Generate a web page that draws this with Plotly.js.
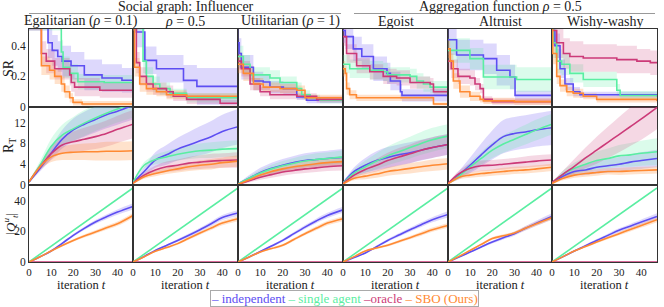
<!DOCTYPE html>
<html>
<head>
<meta charset="utf-8">
<script src="https://cdn.plot.ly/plotly-3.0.1.min.js"></script>
<style>html,body{margin:0;padding:0;background:#fff;}#chart{width:664px;height:307px;}</style>
</head>
<body>
<div id="chart"></div>
<script>
// ---------------- DATA ----------------
const SERIES = ['independent', 'single agent', 'oracle', 'SBO (Ours)'];
const COLUMNS = ['Egalitarian (<i>ρ</i> = 0.1)', '<i>ρ</i> = 0.5', 'Utilitarian (<i>ρ</i> = 1)', 'Egoist', 'Altruist', 'Wishy-washy'];
const GROUPS = ['Social graph: Influencer', 'Aggregation function <i>ρ</i> = 0.5'];
const X_TICKS = [0, 10, 20, 30, 40];
const SR_TICKS = [0, 0.2, 0.4];
const RT_TICKS = [0, 4, 8, 12];
const Q_TICKS = [0, 20, 40];

// Row 1: simple regret (step curves) — per series: iteration breakpoints, mean, spread
const SR_EGAL_T = [[0,8.6,10.5,13,15,19,25,33,42,47],[0,14.6,15.4,18.4,22.1,34,47],[0,5.6,7.8,11.6,18.4,19.1,20.6,32,47],[0,5.6,9.3,11.6,14.6,16.1,18.4,19.9,24,47]];
const SR_EGAL_M = [[0.6,0.42,0.37,0.33,0.30,0.27,0.21,0.19,0.175,0.175],[0.6,0.36,0.26,0.22,0.165,0.16,0.155],[0.6,0.35,0.30,0.25,0.21,0.16,0.13,0.11,0.11],[0.6,0.27,0.24,0.20,0.15,0.10,0.06,0.03,0.02,0.015]];
const SR_EGAL_S = [[0.1,0.1,0.1,0.1,0.1,0.09,0.1,0.09,0.08,0.08],[0.1,0.08,0.07,0.06,0.05,0.05,0.05],[0.1,0.08,0.08,0.07,0.07,0.06,0.06,0.05,0.05],[0.08,0.06,0.06,0.05,0.05,0.04,0.03,0.02,0.02,0.015]];

const SR_RHO_T = [[0,1.5,5.3,10.5,22.6,28.6,47],[0,4.5,6,9,12,16.6,24,47],[0,1.5,3,6,9,15,18,24,39,47],[0,0.7,3,6,10.5,15,24,47]];
const SR_RHO_M = [[0.6,0.49,0.305,0.25,0.174,0.135,0.135],[0.6,0.3,0.2,0.15,0.12,0.09,0.06,0.05],[0.6,0.29,0.2,0.15,0.12,0.10,0.07,0.05,0.025,0.02],[0.6,0.26,0.15,0.12,0.10,0.08,0.07,0.065]];
const SR_RHO_S = [[0.1,0.1,0.09,0.09,0.1,0.12,0.12],[0.1,0.08,0.06,0.05,0.04,0.03,0.03,0.03],[0.1,0.07,0.06,0.05,0.04,0.04,0.03,0.03,0.02,0.02],[0.08,0.06,0.05,0.04,0.03,0.03,0.02,0.02]];

const SR_UTIL_T = [[0,0.5,1.5,6.9,11.3,14.3,20.3,26.3,30.7,47],[0,2.4,5.4,14.3,18.8,26.3,28.5,32.3,36.7,47],[0,1.5,5.4,9.9,14.3,26.3,35.2,47],[0,2.4,6.9,11.3,18.8,26.3,30,47]];
const SR_UTIL_M = [[0.42,0.35,0.26,0.17,0.163,0.13,0.12,0.065,0.044,0.04],[0.33,0.28,0.21,0.19,0.16,0.12,0.08,0.06,0.045,0.04],[0.30,0.25,0.15,0.10,0.08,0.07,0.05,0.045],[0.28,0.22,0.15,0.13,0.12,0.11,0.06,0.05]];
const SR_UTIL_S = [[0.1,0.1,0.08,0.06,0.05,0.04,0.04,0.02,0.02,0.02],[0.07,0.06,0.05,0.05,0.04,0.04,0.03,0.02,0.02,0.02],[0.06,0.05,0.04,0.03,0.03,0.02,0.02,0.02],[0.06,0.05,0.04,0.03,0.03,0.03,0.02,0.02]];

const SR_EGO_T = [[0,1,4.6,8.4,13.6,19.7,21.2,25.7,26.4,47],[0,3,12,18,20,30,33,36,39,47],[0,1.6,6.1,12,18,24,30,39,40.5,47],[0,1,1.6,3,6,39,40.5,47]];
const SR_EGO_M = [[0.5,0.46,0.38,0.33,0.25,0.22,0.17,0.10,0.076,0.07],[0.28,0.25,0.24,0.23,0.21,0.2,0.17,0.15,0.13,0.12],[0.46,0.35,0.27,0.23,0.20,0.19,0.16,0.15,0.10,0.08],[0.25,0.22,0.12,0.08,0.06,0.06,0.02,0.02]];
const SR_EGO_S = [[0.08,0.08,0.08,0.08,0.08,0.07,0.06,0.05,0.04,0.04],[0.06,0.06,0.06,0.06,0.05,0.05,0.05,0.05,0.04,0.04],[0.06,0.06,0.05,0.05,0.05,0.05,0.04,0.04,0.03,0.03],[0.05,0.05,0.04,0.03,0.02,0.02,0.01,0.01]];

const SR_ALT_T = [[0,3.9,16,22,28,30.3,47],[0,9.9,16,31,47],[0,1.5,4.5,9.9,12.2,14.5,16,20,47],[0,1,2.4,5.4,9.9,14.5,16,30,47]];
const SR_ALT_M = [[0.44,0.34,0.316,0.24,0.196,0.076,0.07],[0.37,0.316,0.196,0.18,0.18],[0.30,0.25,0.20,0.19,0.15,0.12,0.05,0.035,0.03],[0.38,0.30,0.17,0.10,0.07,0.05,0.04,0.035,0.03]];
const SR_ALT_S = [[0.1,0.1,0.1,0.1,0.08,0.03,0.03],[0.08,0.07,0.08,0.08,0.08],[0.06,0.06,0.05,0.05,0.04,0.03,0.02,0.02,0.02],[0.06,0.05,0.05,0.04,0.03,0.02,0.02,0.02,0.02]];

const SR_WISHY_T = [[0,0.6,1.3,3.6,5.8,9.5,12.5,47],[0,0.6,2.1,4.3,8,14,29,30.5,47],[0,2.1,5.1,8,14,29,38,44,47],[0,0.3,2.1,3.6,6.6,9.5,14,20,47]];
const SR_WISHY_M = [[0.6,0.5,0.4,0.25,0.15,0.10,0.08,0.07],[0.6,0.42,0.30,0.28,0.22,0.18,0.11,0.075,0.07],[0.5,0.42,0.35,0.33,0.32,0.31,0.30,0.29,0.285],[0.6,0.35,0.20,0.14,0.10,0.09,0.07,0.05,0.04]];
const SR_WISHY_S = [[0.1,0.1,0.08,0.06,0.04,0.03,0.02,0.02],[0.1,0.1,0.08,0.07,0.06,0.05,0.04,0.03,0.03],[0.1,0.1,0.1,0.1,0.09,0.09,0.08,0.08,0.08],[0.08,0.07,0.05,0.04,0.03,0.03,0.02,0.02,0.02]];

// Rows 2 & 3: smooth curves sampled on a shared iteration grid
const T_GRID = [0,5,10,15,20,25,30,35,40,47];

const RT_EGAL_M = [[0.6,3.2,6.1,8.8,10.6,11.7,12.6,13.5,14.2,15.3],[0.6,3.8,7.4,9.6,10.8,11.9,12.9,13.8,14.6,15.6],[0.6,3.5,6.0,7.7,8.3,8.8,9.3,9.9,10.7,11.7],[0.6,3.5,5.4,6.1,6.3,6.4,6.4,6.5,6.5,6.6]];
const RT_EGAL_S = [[0.2,0.6,1.2,1.8,2.2,2.4,2.5,2.6,2.6,2.7],[0.2,0.8,1.5,2.0,2.3,2.5,2.5,2.6,2.6,2.6],[0.2,0.6,1.2,1.6,2.0,2.2,2.4,2.5,2.6,2.7],[0.2,0.6,1.0,1.3,1.5,1.6,1.7,1.8,1.8,1.8]];
const RT_RHO_M = [[0.5,2.6,4.8,5.8,6.9,7.7,8.5,9.3,10.3,11.2],[0.5,3.8,4.9,5.4,5.9,6.3,6.6,6.7,6.9,7.0],[0.4,1.9,2.9,3.5,3.8,4.2,4.4,4.6,4.7,4.8],[0.3,1.6,2.2,2.7,3.1,3.5,3.8,4.0,4.3,4.6]];
const RT_RHO_S = [[0.1,0.8,1.5,1.9,2.2,2.5,2.8,3.0,3.2,3.4],[0.1,0.6,0.9,1.1,1.2,1.3,1.4,1.5,1.5,1.6],[0.1,0.5,0.8,1.0,1.1,1.2,1.3,1.4,1.4,1.5],[0.1,0.4,0.5,0.6,0.7,0.8,0.9,1.0,1.0,1.1]];
const RT_UTIL_M = [[0.2,1.3,2.4,3.2,3.8,4.3,4.7,4.9,5.1,5.3],[0.2,1.3,2.3,3.1,3.7,4.2,4.6,4.9,5.1,5.4],[0.1,0.8,1.5,2.0,2.5,2.8,3.1,3.3,3.5,3.7],[0.1,1.0,1.9,2.6,3.1,3.5,3.8,4.1,4.3,4.5]];
const RT_UTIL_S = [[0.1,0.6,0.9,1.1,1.2,1.3,1.4,1.5,1.5,1.6],[0.1,0.4,0.6,0.8,0.9,1.0,1.1,1.2,1.2,1.3],[0.05,0.3,0.5,0.6,0.7,0.7,0.8,0.8,0.8,0.9],[0.05,0.3,0.5,0.6,0.7,0.7,0.8,0.8,0.8,0.8]];
const RT_EGO_M = [[0.4,2.6,3.8,4.7,5.3,5.8,6.2,6.7,7.2,7.8],[0.4,2.3,3.5,4.6,5.6,6.4,7.2,8.0,8.7,9.4],[0.3,1.9,3.0,3.8,4.7,5.4,6.0,6.7,7.2,7.8],[0.2,1.3,1.7,2.1,2.6,2.9,3.2,3.5,3.8,4.1]];
const RT_EGO_S = [[0.1,0.8,1.4,1.8,2.0,2.0,2.0,2.0,2.0,2.0],[0.1,0.8,1.2,1.5,1.8,2.0,2.1,2.2,2.3,2.3],[0.1,0.5,0.9,1.2,1.5,1.7,1.8,1.9,2.0,2.0],[0.1,0.4,0.6,0.7,0.8,0.9,1.0,1.0,1.1,1.1]];
const RT_ALT_M = [[0.3,1.9,3.8,5.8,7.7,9.3,9.9,10.2,10.6,11.0],[0.3,1.7,3.5,5.1,6.7,7.9,8.8,9.7,10.6,11.7],[0.3,2.2,3.2,3.7,3.8,4.0,4.2,4.4,4.6,4.8],[0.2,1.5,1.9,2.2,2.4,2.6,2.8,2.9,3.1,3.4]];
const RT_ALT_S = [[0.1,0.8,1.5,2.2,2.8,3.2,3.2,3.2,3.2,3.3],[0.1,0.5,0.9,1.2,1.5,1.7,1.8,1.9,2.0,2.0],[0.1,0.6,0.9,1.0,1.0,1.0,1.0,1.1,1.1,1.1],[0.1,0.4,0.5,0.6,0.6,0.7,0.7,0.7,0.7,0.7]];
const RT_WISHY_M = [[0.4,1.7,2.6,2.9,3.4,3.7,4.0,4.4,4.7,5.1],[0.4,2.1,3.2,4.0,4.7,5.1,5.6,5.8,6.1,6.4],[0.5,2.1,3.6,5.2,6.7,8.2,9.7,11.2,12.7,14.9],[0.3,1.3,1.9,2.2,2.4,2.6,2.6,2.7,2.8,2.9]];
const RT_WISHY_S = [[0.1,0.5,0.8,1.0,1.2,1.3,1.4,1.5,1.6,1.7],[0.1,0.7,1.1,1.4,1.7,1.9,2.1,2.3,2.4,2.6],[0.1,0.7,1.4,2.0,2.6,3.0,3.4,3.7,4.0,4.2],[0.1,0.4,0.5,0.6,0.6,0.6,0.7,0.7,0.7,0.7]];

// Row 3: number of queries; single agent and oracle are the same in every panel
const Q_SINGLE = [0,5.2,10.3,15.5,20.6,25.8,30.9,36.1,41.2,48.4];
const Q_ORACLE = [0,0,0,0,0,0,0,0,0,0];
const Q_IND_M = [[0,3.4,7.2,12.2,17.4,22.0,26.1,29.5,32.6,36.3],[0,3.6,7.6,10.8,14.1,17.5,21.1,25.0,29.0,32.0],[0,3.3,6.8,10.5,14.1,18.5,22.8,26.8,30.4,34.1],[0,2.9,5.9,10.0,14.1,17.6,21.1,24.4,27.6,31.1],[0,3.2,6.5,9.8,13.0,15.8,18.5,22.0,25.4,29.8],[0,3.5,7.2,10.6,14.1,17.4,20.7,23.4,26.1,29.8]];
const Q_SBO_M = [[0,3.4,7.2,10.8,14.1,17.0,19.6,22.3,25.0,30.4],[0,3.4,7.0,9.4,12.0,15.5,18.9,22.2,25.4,28.3],[0,3.3,6.5,8.8,10.9,14.7,18.5,22.0,25.4,28.3],[0,3.5,7.2,9.1,10.9,13.4,15.9,18.5,21.1,23.9],[0,3.7,7.6,11.5,15.3,17.1,18.9,22.0,25.0,29.0],[0,3.5,7.2,10.1,13.0,15.8,18.5,21.2,23.9,27.6]];
const Q_IND_S = [0,0.3,0.5,0.7,0.9,1.1,1.3,1.5,1.7,2.0];
const Q_SBO_S = [0,0.3,0.5,0.7,0.8,1.0,1.1,1.3,1.4,1.6];

// ---------------- BUILD ----------------
const SR_PANELS = [[SR_EGAL_T,SR_EGAL_M,SR_EGAL_S],[SR_RHO_T,SR_RHO_M,SR_RHO_S],[SR_UTIL_T,SR_UTIL_M,SR_UTIL_S],[SR_EGO_T,SR_EGO_M,SR_EGO_S],[SR_ALT_T,SR_ALT_M,SR_ALT_S],[SR_WISHY_T,SR_WISHY_M,SR_WISHY_S]];
const RT_PANELS = [[RT_EGAL_M,RT_EGAL_S],[RT_RHO_M,RT_RHO_S],[RT_UTIL_M,RT_UTIL_S],[RT_EGO_M,RT_EGO_S],[RT_ALT_M,RT_ALT_S],[RT_WISHY_M,RT_WISHY_S]];

const COLORS = ['#5d4ef2', '#5aeea2', '#cc3a78', '#ff8a33'];
const FILLS = ['rgba(130,112,245,0.27)', 'rgba(90,238,162,0.22)', 'rgba(204,58,120,0.2)', 'rgba(255,138,51,0.25)'];
const SERIF = 'Liberation Serif';

const W = 664, H = 307;
const COL_PX = [29, 133, 238, 343, 448, 552, 657];
const ROW_PX = [29, 107, 185, 262];
const X_RANGE = [0, 47];
const Y_RANGES = [[0, 0.51], [0, 15], [0, 50.3]];
const Y_TICKS = [SR_TICKS, RT_TICKS, Q_TICKS];

const bandTraces = [];
const lineTraces = [];

function axId(r, c) { return r * 6 + c + 1; }
function addSeries(k, xs, m, s, i, shape) {
  const xa = k === 1 ? 'x' : 'x' + k, ya = k === 1 ? 'y' : 'y' + k;
  if (s) {
    const lo = m.map((v, j) => v - s[j]);
    const hi = m.map((v, j) => v + s[j]);
    bandTraces.push({x: xs, y: lo, xaxis: xa, yaxis: ya, mode: 'lines', line: {width: 0, shape: shape, color: COLORS[i]}, hoverinfo: 'skip', showlegend: false});
    bandTraces.push({x: xs, y: hi, xaxis: xa, yaxis: ya, mode: 'lines', fill: 'tonexty', fillcolor: FILLS[i], line: {width: 0, shape: shape, color: COLORS[i]}, hoverinfo: 'skip', showlegend: false});
  }
  lineTraces.push({x: xs, y: m, xaxis: xa, yaxis: ya, mode: 'lines', name: SERIES[i], line: {width: 1.6, shape: shape, color: COLORS[i]}, showlegend: false});
}

for (let c = 0; c < 6; c++) {
  const [sT, sM, sS] = SR_PANELS[c];
  for (let i = 0; i < 4; i++) addSeries(axId(0, c), sT[i], sM[i], sS[i], i, 'hv');
  const [rM, rS] = RT_PANELS[c];
  for (let i = 0; i < 4; i++) addSeries(axId(1, c), T_GRID, rM[i], rS[i], i, 'spline');
  const k = axId(2, c);
  addSeries(k, T_GRID, Q_IND_M[c], Q_IND_S, 0, 'spline');
  addSeries(k, T_GRID, Q_SINGLE, null, 1, 'linear');
  addSeries(k, T_GRID, Q_ORACLE, null, 2, 'linear');
  addSeries(k, T_GRID, Q_SBO_M[c], Q_SBO_S, 3, 'spline');
}

const layout = {
  width: W, height: H,
  margin: {l: 0, r: 0, t: 0, b: 0},
  paper_bgcolor: '#fff', plot_bgcolor: '#fff',
  font: {family: SERIF, color: '#222', size: 12},
  showlegend: false,
  annotations: [], shapes: []
};

for (let r = 0; r < 3; r++) {
  for (let c = 0; c < 6; c++) {
    const k = axId(r, c);
    const xk = k === 1 ? 'xaxis' : 'xaxis' + k;
    const yk = k === 1 ? 'yaxis' : 'yaxis' + k;
    layout[xk] = {
      domain: [COL_PX[c] / W, COL_PX[c + 1] / W],
      anchor: k === 1 ? 'y' : 'y' + k,
      range: X_RANGE, showgrid: false, zeroline: false,
      showline: true, mirror: true, linecolor: '#333', linewidth: 1,
      ticks: '', tickvals: X_TICKS, showticklabels: r === 2,
      ticklabelstandoff: 0,
      tickfont: {family: SERIF, size: 11, color: '#222'}
    };
    layout[yk] = {
      domain: [1 - ROW_PX[r + 1] / H, 1 - ROW_PX[r] / H],
      anchor: k === 1 ? 'x' : 'x' + k,
      range: Y_RANGES[r], showgrid: false, zeroline: false,
      showline: true, mirror: true, linecolor: '#333', linewidth: 1,
      ticks: '', tickvals: Y_TICKS[r], showticklabels: c === 0,
      tickfont: {family: SERIF, size: 11.5, color: '#222'}
    };
  }
}

// column titles and x titles
for (let c = 0; c < 6; c++) {
  const cx = (COL_PX[c] + COL_PX[c + 1]) / 2 / W;
  layout.annotations.push({text: COLUMNS[c], xref: 'paper', yref: 'paper', x: cx, y: 1 - 21 / H, xanchor: 'center', yanchor: 'middle', showarrow: false, font: {family: SERIF, size: 14, color: '#222'}});
  layout.annotations.push({text: 'iteration <i>t</i>', xref: 'paper', yref: 'paper', x: cx, y: 1 - 276.5 / H, xanchor: 'center', yanchor: 'top', showarrow: false, borderpad: 0, font: {family: SERIF, size: 12.5, color: '#222'}});
}
// group titles
layout.annotations.push({text: GROUPS[0], xref: 'paper', yref: 'paper', x: (COL_PX[0] + COL_PX[3]) / 2 / W, y: 1 - 6 / H, xanchor: 'center', yanchor: 'middle', showarrow: false, font: {family: SERIF, size: 14, color: '#222'}});
layout.annotations.push({text: GROUPS[1], xref: 'paper', yref: 'paper', x: (COL_PX[3] + COL_PX[6]) / 2 / W, y: 1 - 6 / H, xanchor: 'center', yanchor: 'middle', showarrow: false, font: {family: SERIF, size: 14, color: '#222'}});
layout.shapes.push({type: 'line', xref: 'paper', yref: 'paper', x0: 29 / W, x1: 341 / W, y0: 1 - 13.5 / H, y1: 1 - 13.5 / H, line: {color: '#999', width: 1}});
layout.shapes.push({type: 'line', xref: 'paper', yref: 'paper', x0: 354 / W, x1: 655 / W, y0: 1 - 13.5 / H, y1: 1 - 13.5 / H, line: {color: '#999', width: 1}});

// y titles
const Y_TITLES = ['SR', 'R<sub>T</sub>', '|<i>Q</i><sup><i>u</i></sup><sub><i>t</i></sub>|'];
const Y_TITLE_X = [8, 9, 10];
for (let r = 0; r < 3; r++) {
  layout.annotations.push({text: Y_TITLES[r], xref: 'paper', yref: 'paper', x: Y_TITLE_X[r] / W, y: 1 - (ROW_PX[r] + ROW_PX[r + 1]) / 2 / H, xanchor: 'center', yanchor: 'middle', textangle: -90, showarrow: false, borderpad: 0, font: {family: SERIF, size: r === 2 ? 13 : 14, color: '#222'}});
}

// legend (coloured entries in a framed box)
const legText = SERIES.map((s, i) => '<span style="color:' + COLORS[i] + '">–' + (i === 2 ? '' : ' ') + s + '</span>').join(' ');
layout.annotations.push({text: legText, xref: 'paper', yref: 'paper', x: 344.5 / W, y: 1 - 306.5 / H, xanchor: 'center', yanchor: 'bottom', showarrow: false, bordercolor: '#aaa', borderwidth: 1, borderpad: 0, font: {family: SERIF, size: 13}});

Plotly.newPlot('chart', bandTraces.concat(lineTraces), layout, {staticPlot: true, displayModeBar: false});
</script>
</body>
</html>
